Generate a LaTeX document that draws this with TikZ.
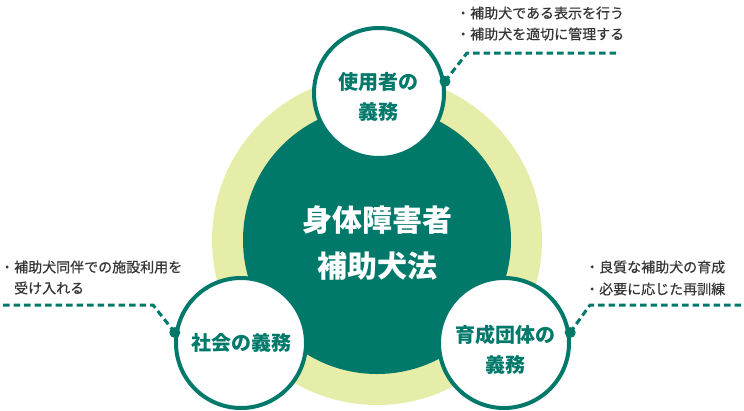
\documentclass[tikz,border=0pt]{standalone}
\usepackage{fontspec}
\setmainfont{Noto Sans CJK JP}
\newfontfamily\jpmed{Noto Sans CJK JP}[FakeBold=0.5]
\definecolor{teal1}{HTML}{00796B}
\definecolor{ring}{HTML}{E6EDA8}
\definecolor{txt}{HTML}{363636}
\begin{document}
\begin{tikzpicture}[x=1pt,y=-1pt,
  duty/.style={circle,draw=teal1,line width=4pt,fill=white,minimum size=130pt,inner sep=0pt},
  dutytext/.style={text=teal1,font=\fontsize{20}{20}\selectfont\bfseries,inner sep=0pt},
  listtext/.style={text=txt,font=\jpmed\fontsize{14}{14}\selectfont,inner sep=0pt,anchor=west},
  lead/.style={draw=teal1,line width=3pt,dash pattern=on 6.5pt off 4pt},
  leaddot/.style={circle,fill=teal1,minimum size=11pt,inner sep=0pt}]
\useasboundingbox (0,0) rectangle (744,410);
% central circles
\node[circle,fill=ring,minimum size=330pt,inner sep=0pt] (ringc) at (377,240) {};
\node[circle,fill=teal1,minimum size=268pt,inner sep=0pt] (law) at (377,240) {};
\node[text=white,font=\fontsize{30}{30}\selectfont\bfseries,inner sep=0pt] (lawa) at (377,220) {身体障害者};
\node[text=white,font=\fontsize{30}{30}\selectfont\bfseries,inner sep=0pt] (lawb) at (377,266) {補助犬法};
% duty circles
\node[duty] (user) at (379,93) {};
\node[duty] (soc) at (241,343) {};
\node[duty] (org) at (504,343) {};
\node[dutytext] (usera) at (378,82) {使用者の};
\node[dutytext] (userb) at (378,112) {義務};
\node[dutytext] (soca) at (241.5,343) {社会の義務};
\node[dutytext] (orga) at (505,335) {育成団体の};
\node[dutytext] (orgb) at (505,365) {義務};
% leader lines
\node[leaddot] (d1) at (user.10) {};
\node[leaddot] (d2) at (soc.171) {};
\node[leaddot] (d3) at (org.9) {};
\coordinate (c1) at (467,53);
\coordinate (e1) at (619,53);
\coordinate (c2) at (153,305);
\coordinate (e2) at (0,305);
\coordinate (c3) at (590,305);
\coordinate (e3) at (744,305);
\draw[lead] (d1.center) -- (c1) -- (e1);
\draw[lead] (d2.center) -- (c2) -- (e2);
\draw[lead] (d3.center) -- (c3) -- (e3);
% lists
\node[listtext] (t1) at (456,13) {・補助犬である表示を行う};
\node[listtext] (t2) at (456,34) {・補助犬を適切に管理する};
\node[listtext] (s1) at (0,267) {・補助犬同伴での施設利用を};
\node[listtext] (s2) at (14,288) {受け入れる};
\node[listtext] (o1) at (585,267) {・良質な補助犬の育成};
\node[listtext] (o2) at (585,289) {・必要に応じた再訓練};
\end{tikzpicture}
\end{document}
